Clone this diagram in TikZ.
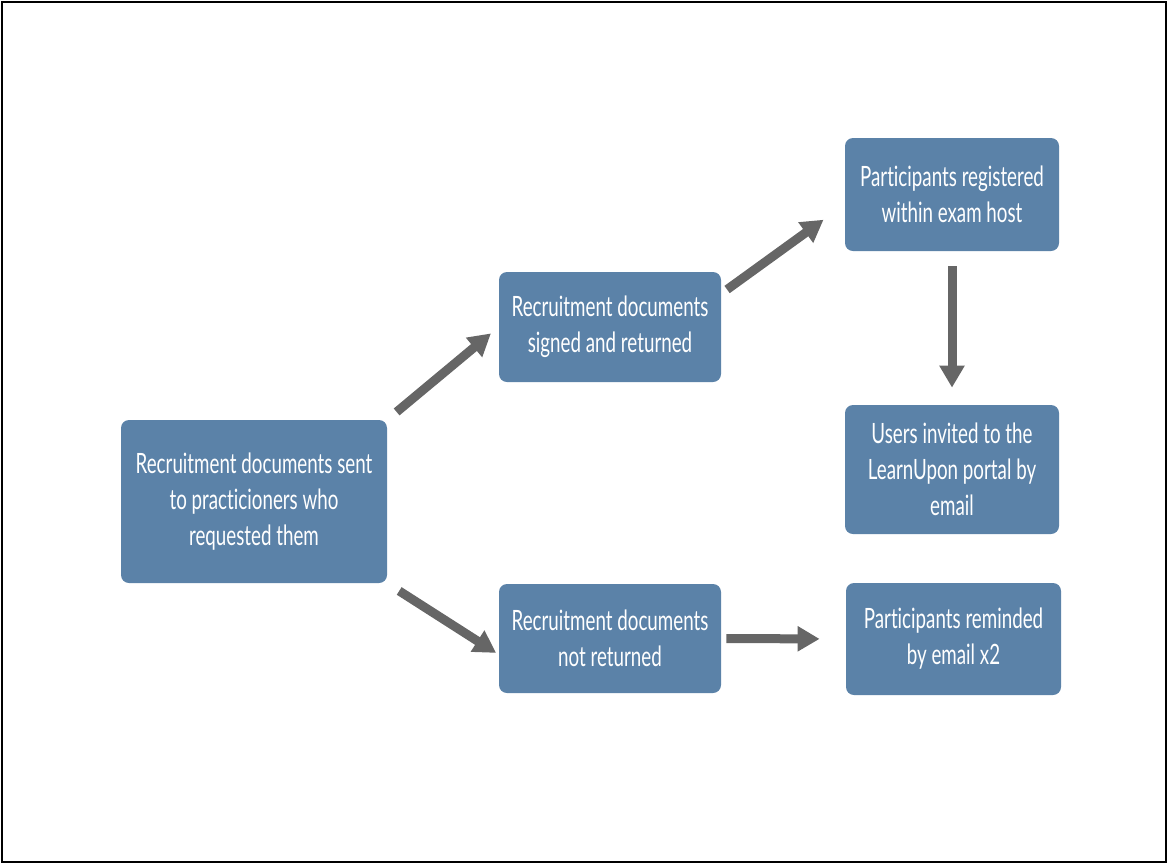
\documentclass[tikz,border=0pt]{standalone}
\usepackage{fontspec}
\setmainfont{Lato}
\newfontfamily\boxfont[FakeStretch=0.67, Ligatures=NoCommon]{Lato}
\usetikzlibrary{arrows.meta}
\definecolor{boxblue}{HTML}{5B82A8}
\definecolor{arrowgray}{HTML}{666666}

\begin{document}
\begin{tikzpicture}[x=0.5pt, y=-0.5pt,
  stage/.style={fill=boxblue, rounded corners=4pt, text=white, align=center,
    font=\boxfont\fontsize{14}{18}\selectfont, inner sep=0pt},
  flow/.style={draw=arrowgray, line width=4.5pt, -{Triangle[width=12pt, length=11pt]}}]

  \useasboundingbox (0,0) rectangle (1168,864);
  \draw[line width=1pt] (2,2) rectangle (1166,862);

  \node[stage, minimum width=133pt, minimum height=81.5pt] (start) at (254,501.5)
    {Recruitment documents sent\\ to practicioners who\\ requested them};
  \node[stage, minimum width=111pt, minimum height=55pt] (signed) at (610,327)
    {Recruitment documents\\ signed and returned};
  \node[stage, minimum width=111pt, minimum height=54.5pt] (notret) at (610,638.5)
    {Recruitment documents\\ not returned};
  \node[stage, minimum width=107pt, minimum height=56.5pt] (regist) at (952,194.5)
    {Participants registered\\ within exam host};
  \node[stage, minimum width=107pt, minimum height=64.5pt] (invited) at (952,469.5)
    {Users invited to the\\ LearnUpon portal by\\ email};
  \node[stage, minimum width=107.5pt, minimum height=56pt] (remind) at (953.5,639)
    {Participants reminded\\ by email x2};

  \draw[flow, shorten <=6pt, shorten >=5pt] (start.north east) -- (signed.west); %% sent -> signed
  \draw[flow, shorten <=3.5pt, shorten >=13pt]
    ([yshift=-11pt]signed.north east) -- ([yshift=-5pt]regist.west); %% signed -> registered
  \draw[flow, shorten <=7.5pt, shorten >=8.5pt] (regist.south) -- (invited.north);
  \draw[flow, shorten <=7pt, shorten >=1.5pt]
    (start.south east) -- ([yshift=-8pt]notret.west); %% sent -> not returned
  \draw[flow, shorten <=2.5pt, shorten >=13pt] (notret.east) -- (remind.west);
\end{tikzpicture}
\end{document}
